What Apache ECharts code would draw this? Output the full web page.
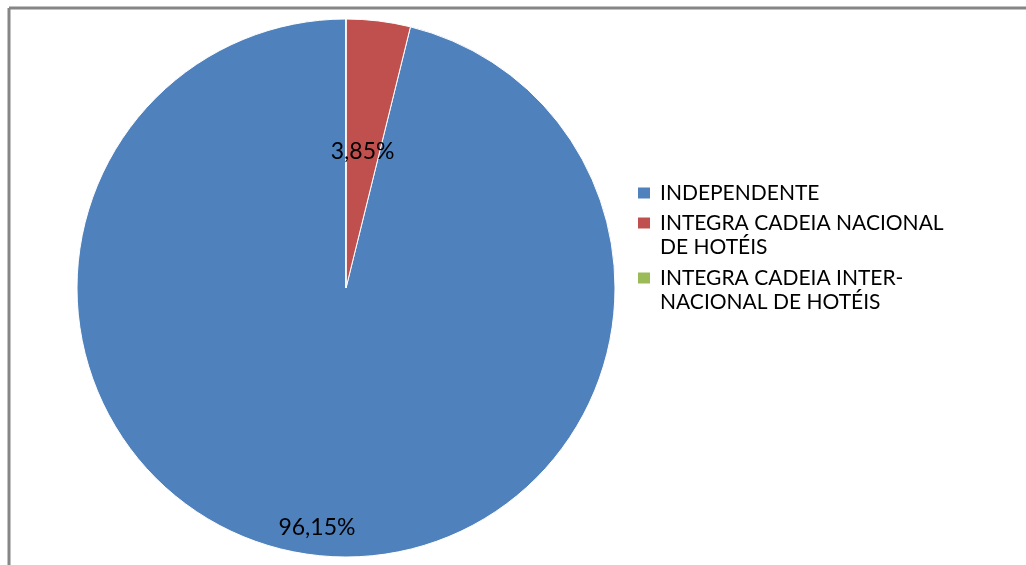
<!DOCTYPE html>
<html>
<head>
<meta charset="utf-8">
<script src="https://cdn.jsdelivr.net/npm/echarts@6/dist/echarts.min.js"></script>
<style>
  html, body { margin: 0; padding: 0; background: #fff; }
  #chart { width: 1026px; height: 565px; }
</style>
</head>
<body>
<div id="chart"></div>
<script>
// categories and values
const categories = [
  'INDEPENDENTE',
  'INTEGRA CADEIA NACIONAL DE HOTÉIS',
  'INTEGRA CADEIA INTERNACIONAL DE HOTÉIS'
];
const legendLines = [
  ['INDEPENDENTE'],
  ['INTEGRA CADEIA NACIONAL', 'DE HOTÉIS'],
  ['INTEGRA CADEIA INTER-', 'NACIONAL DE HOTÉIS']
];
const values = [96.15, 3.85, 0];
const colors = ['#4F81BD', '#C0504D', '#9BBB59'];

const FONT = 'Lato';
const fmtPct = (v) => v.toFixed(2).replace('.', ',') + '%';

const chart = echarts.init(document.getElementById('chart'));

let pieData = [];
let labelData = [];
categories.forEach((name, i) => {
  pieData.push({
    name: name,
    value: values[i],
    itemStyle: { color: colors[i] },
    // the small slice keeps its label at half radius
    label: { show: i === 1 }
  });
  labelData.push({
    name: name,
    value: values[i],
    // the big slice label sits near the rim
    label: { show: i === 0 }
  });
});

// one legend per entry so multi-line entries align the square with the first line
const legendTops = [181, 187, 242];
const legends = categories.map((name, i) => ({
  data: [name],
  orient: 'vertical',
  left: 636,
  top: legendTops[i],
  padding: 0,
  itemWidth: 14,
  itemHeight: 13,
  itemGap: 0,
  icon: 'rect',
  selectedMode: false,
  formatter: () => (legendLines[i].length > 1 ? '\n' : '') + legendLines[i].join('\n'),
  textStyle: { fontFamily: FONT, fontSize: 21, lineHeight: 24, color: '#000', padding: [0, 0, 0, 4] }
}));

const option = {
  animation: false,
  backgroundColor: '#fff',
  legend: legends,
  graphic: [
    { type: 'line', shape: { x1: 9, y1: 8, x2: 1026, y2: 8 }, style: { stroke: '#868686', lineWidth: 3 } },
    { type: 'line', shape: { x1: 9, y1: 8, x2: 9, y2: 565 }, style: { stroke: '#868686', lineWidth: 3 } }
  ],
  series: [
    {
      name: 'main',
      type: 'pie',
      center: [346, 288],
      radius: [0, 269],
      startAngle: 90,
      clockwise: false,
      silent: true,
      itemStyle: { borderColor: '#fff', borderWidth: 1 },
      label: {
        position: 'inside',
        fontFamily: FONT,
        fontSize: 23,
        color: '#000',
        formatter: (p) => fmtPct(p.value)
      },
      labelLine: { show: false },
      data: pieData
    },
    {
      name: 'labels',
      type: 'pie',
      center: [346, 288],
      radius: [207, 269],
      startAngle: 90,
      clockwise: false,
      silent: true,
      itemStyle: { color: 'rgba(0,0,0,0)', borderWidth: 0 },
      label: {
        position: 'inside',
        fontFamily: FONT,
        fontSize: 23,
        color: '#000',
        formatter: (p) => fmtPct(p.value)
      },
      labelLine: { show: false },
      data: labelData
    }
  ]
};

chart.setOption(option);
</script>
</body>
</html>
